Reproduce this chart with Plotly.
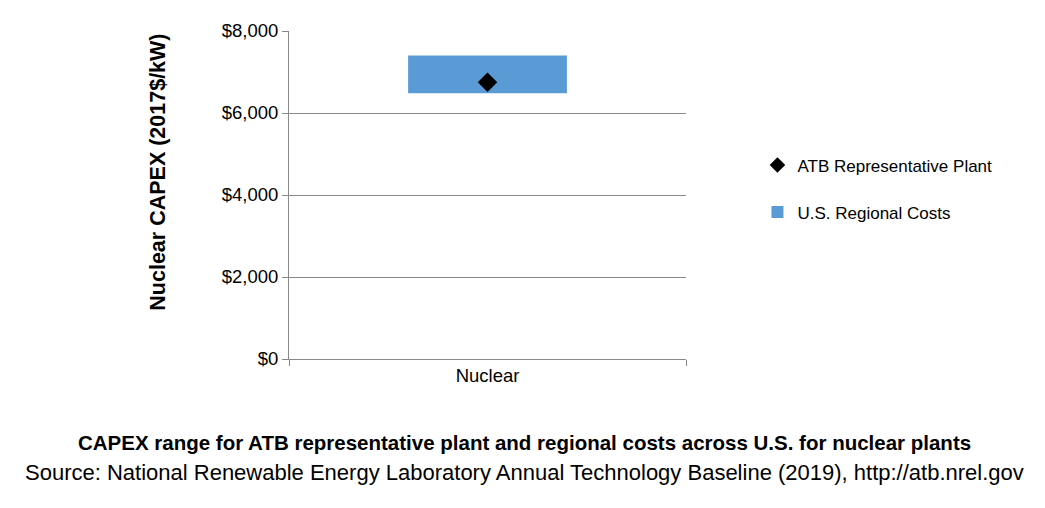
import plotly.graph_objects as go

categories = ["Nuclear"]
regional_low = [6480]
regional_high = [7400]
atb_plant = [6750]
y_ticks = [0, 2000, 4000, 6000, 8000]
y_tick_labels = ["$0", "$2,000", "$4,000", "$6,000", "$8,000"]

font_family = "Liberation Sans"
axis_grey = "#898989"

fig = go.Figure()
fig.add_trace(go.Bar(
    x=categories,
    y=[h - l for h, l in zip(regional_high, regional_low)],
    base=regional_low,
    width=0.4,
    marker=dict(color="#5B9BD5", line=dict(width=0)),
    name="U.S. Regional Costs",
    legendgroup="b",
    legendrank=2,
))
fig.add_trace(go.Scatter(
    x=categories,
    y=atb_plant,
    mode="markers",
    marker=dict(symbol="diamond", size=15, color="black"),
    name="ATB Representative Plant",
    legendgroup="a",
    legendrank=1,
))

fig.update_layout(
    width=1045,
    height=508,
    margin=dict(l=281, r=367, t=20, b=157),
    plot_bgcolor="white",
    paper_bgcolor="white",
    font=dict(family=font_family, size=18, color="black"),
    showlegend=True,
    legend=dict(
        x=1.18, y=0.645, xanchor="left", yanchor="top",
        traceorder="grouped", tracegroupgap=22,
        font=dict(size=17),
        itemsizing="constant",
    ),
    xaxis=dict(
        type="category",
        range=[-0.5, 0.5],
        tickson="boundaries",
        ticks="outside",
        ticklen=6,
        tickcolor=axis_grey,
        showgrid=True,
        gridcolor=axis_grey,
        showline=True,
        linecolor=axis_grey,
        tickfont=dict(size=18.5),
    ),
    yaxis=dict(
        range=[0, 8000],
        tickvals=y_ticks,
        ticktext=y_tick_labels,
        ticks="outside",
        ticklen=6,
        tickcolor=axis_grey,
        showgrid=True,
        gridcolor=axis_grey,
        showline=True,
        linecolor=axis_grey,
        zeroline=False,
        tickfont=dict(size=18.5),
    ),
    annotations=[
        # y axis title, sits a bit above the plot centre like the original
        dict(text="<b>Nuclear CAPEX (2017$/kW)</b>", textangle=-90,
             xref="paper", yref="paper", x=-0.33, y=0.571, xanchor="center", yanchor="middle",
             showarrow=False, font=dict(size=21.5)),
        dict(text="<b>CAPEX range for ATB representative plant and regional costs across U.S. for nuclear plants</b>",
             xref="paper", yref="paper", x=0.592, y=-0.254, xanchor="center", yanchor="middle",
             showarrow=False, font=dict(size=20.5)),
        dict(text="Source: National Renewable Energy Laboratory Annual Technology Baseline (2019), http://atb.nrel.gov",
             xref="paper", yref="paper", x=0.592, y=-0.347, xanchor="center", yanchor="middle",
             showarrow=False, font=dict(size=22)),
    ],
)
fig.write_html("out.html")
